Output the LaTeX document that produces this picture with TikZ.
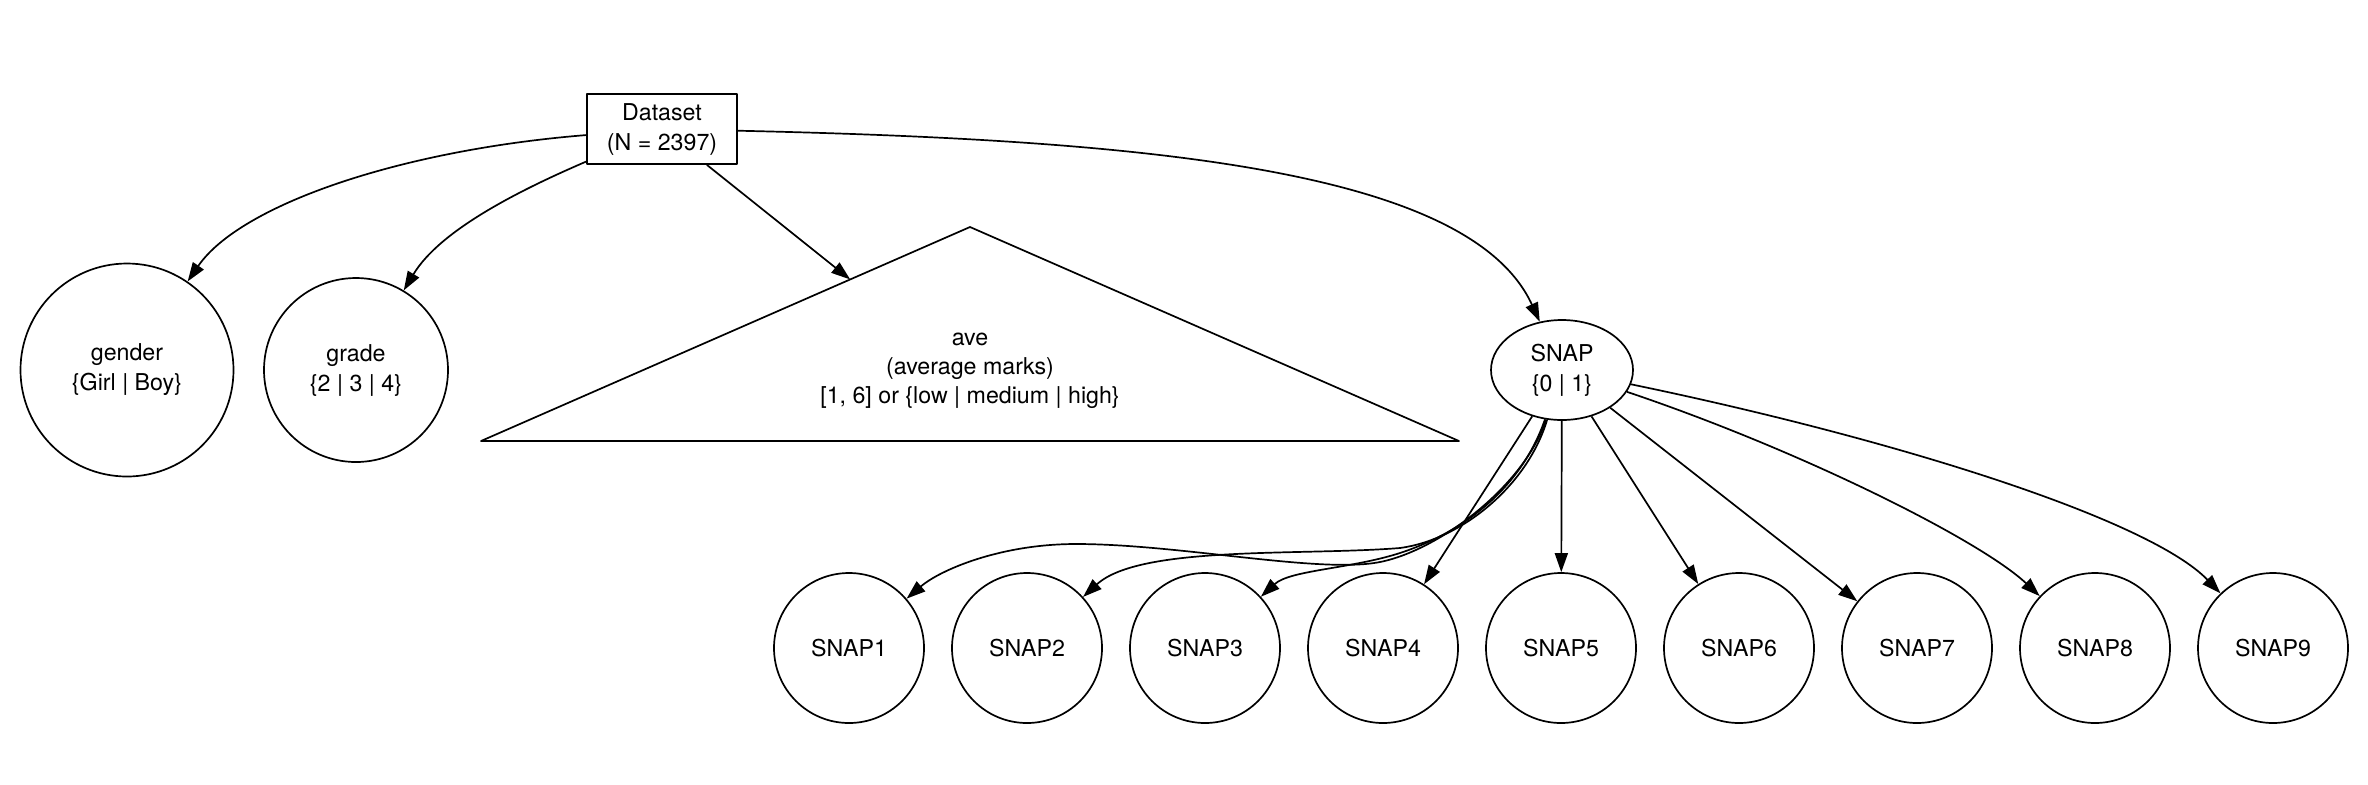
\documentclass[tikz,border=0pt]{standalone}
\usepackage{fontspec}
\setmainfont{TeX Gyre Heros}
\usetikzlibrary{arrows.meta,shapes.geometric}

\begin{document}
\begin{tikzpicture}[
		x=0.5pt, y=-0.5pt,
		font=\fontsize{11.6}{15}\selectfont,
		line join=round,
		line width=0.85pt,
		>={Triangle[length=9.5pt,width=6.5pt]},
		var/.style={draw, circle, inner sep=0pt, align=center},
		leaf/.style={draw, circle, inner sep=0pt, minimum size=75pt}
		]
		
		\useasboundingbox (0,0) rectangle (2368,784);
		
		\node[draw, minimum width=75pt, minimum height=35pt, inner sep=0pt, align=center] 
		(data) at (662,129) {Dataset\\(N = 2397)};
		
		\node[var, minimum size=106.5pt] (gen) at (127,370) {gender\\\{Girl | Boy\}};
		\node[var, minimum size=92pt] (grd) at (356,370) {grade\\\{2 | 3 | 4\}};
		
		% average marks
		\draw (481,441) coordinate(L) -- (970,227) coordinate(T) -- 
		(1459,441) coordinate(R) -- cycle;
		\path (L) -- (T) coordinate[pos=0.755] (hit);
		\node[align=center, font=\fontsize{11.6}{14.5}\selectfont] (ave) at (970,371) 
		{ave\\(average marks)\\{}[1, 6] or \{low | medium | high\}};
		
		\node[draw, ellipse, minimum width=71pt, minimum height=50pt, inner sep=0pt, 
		align=center] (snap) at (1562,370) {SNAP\\\{0 | 1\}};
		
		\foreach \i in {1,...,9}
			\node[leaf] (s\i) at ({849+178*(\i-1)},648) {SNAP\i};
		
		\draw[->] (data) .. controls (400,150) and (240,205) .. (gen);
		\draw[->] (data) .. controls (520,190) and (440,230) .. (grd);
		\draw[->] (data) -- (hit);
		\draw[->] (data) .. controls (1150,140) and (1470,170) .. (snap);
		
		\draw[->] (snap) .. controls (1525,485) and (1440,550) .. (1380,562) 
		.. controls (1320,574) and (1180,544) .. (1076,544) 
		.. controls (1000,544) and (940,570) .. (s1);
		\draw[->] (snap) .. controls (1527,487) and (1460,540) .. (1400,548) 
		.. controls (1300,556) and (1140,545) .. (s2);
		\draw[->] (snap) .. controls (1523,483) and (1470,530) .. (1400,553) 
		.. controls (1350,569) and (1290,570) .. (s3);
		\foreach \i in {4,...,7}
			\draw[->] (snap) -- (s\i);
		\draw[->] (snap) .. controls (1800,450) and (1980,540) .. (s8);
		\draw[->] (snap) .. controls (1900,440) and (2150,520) .. (s9);
		
	\end{tikzpicture}
\end{document}
